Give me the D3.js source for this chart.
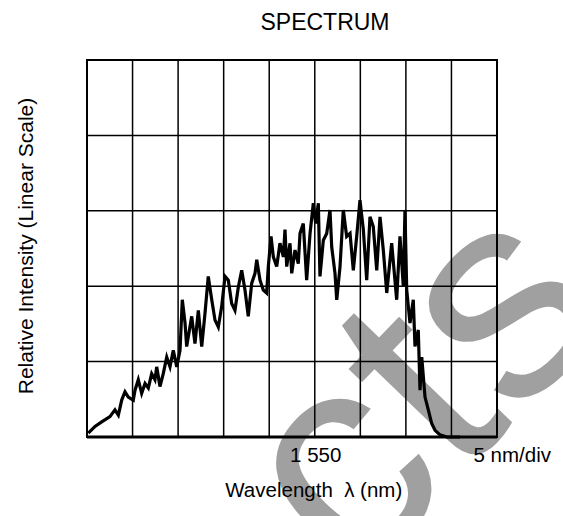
<!DOCTYPE html>
<html>
<head>
<meta charset="utf-8">
<script src="https://cdn.jsdelivr.net/npm/d3@7"></script>
<style>
  body { margin: 0; background: #fff; }
  text { font-family: "Liberation Sans", Arial, sans-serif; fill: #000; }
</style>
</head>
<body>
<div id="chart"><svg width="563" height="516"></svg></div>
<script>
// Spectrum trace: wavelength (nm), intensity (divisions)
let wavelength = [
  1525.14, 1525.88, 1526.61, 1527.52, 1528.07, 1528.44, 1528.81, 1529.17, 1529.53, 1530.08,
  1530.27, 1530.63, 1531.00, 1531.37, 1531.73, 1532.10, 1532.46, 1532.65, 1533.01, 1533.37,
  1533.75, 1534.11, 1534.47, 1534.85, 1535.21, 1535.46, 1535.76, 1535.94, 1536.12, 1536.49,
  1536.85, 1537.22, 1537.59, 1537.95, 1538.31, 1538.69, 1539.05, 1539.41, 1539.78, 1540.15,
  1540.51, 1540.88, 1541.24, 1541.61, 1541.98, 1542.34, 1542.70, 1543.08, 1543.44, 1543.63,
  1543.99, 1544.35, 1544.72, 1544.90, 1545.20, 1545.45, 1545.82, 1546.18, 1546.55, 1546.73,
  1546.92, 1547.28, 1547.47, 1547.83, 1548.19, 1548.38, 1548.74, 1549.11, 1549.48, 1549.84,
  1550.10, 1550.39, 1550.57, 1550.94, 1551.31, 1551.67, 1551.86, 1552.22, 1552.41, 1552.77,
  1553.13, 1553.50, 1553.87, 1554.23, 1554.60, 1554.96, 1555.33, 1555.70, 1556.06, 1556.42,
  1556.80, 1557.16, 1557.52, 1557.90, 1558.44, 1558.99, 1559.35, 1559.72, 1559.90, 1560.09,
  1560.45, 1560.81, 1561.00, 1561.36, 1561.55, 1561.74, 1562.10, 1562.46, 1562.83, 1563.20,
  1563.74, 1564.48, 1565.94
];
let intensity = [
  0.05, 0.14, 0.20, 0.27, 0.36, 0.29, 0.49, 0.60, 0.53, 0.49,
  0.62, 0.76, 0.58, 0.71, 0.65, 0.84, 0.76, 0.93, 0.67, 0.84,
  1.06, 0.93, 1.15, 0.93, 1.15, 1.82, 1.51, 1.20, 1.33, 1.60,
  1.24, 1.68, 1.20, 1.64, 2.13, 1.82, 1.55, 1.46, 1.73, 2.13,
  2.08, 1.77, 1.68, 1.99, 2.21, 1.95, 1.60, 2.04, 2.17, 2.35,
  2.08, 1.95, 1.91, 2.26, 2.66, 2.39, 2.26, 2.57, 2.39, 2.75,
  2.26, 2.57, 2.17, 2.48, 2.30, 2.70, 2.83, 2.08, 2.70, 3.10,
  2.83, 3.10, 2.13, 2.61, 2.70, 3.01, 2.52, 2.17, 1.82, 2.26,
  3.01, 2.66, 2.70, 2.21, 2.66, 3.14, 2.75, 2.08, 2.92, 2.79,
  2.21, 2.92, 2.48, 1.91, 2.57, 1.82, 2.66, 1.99, 3.01, 1.95,
  1.51, 1.82, 1.20, 1.42, 0.62, 1.06, 0.53, 0.36, 0.18, 0.09,
  0.03, 0.00, 0.00
];

// Axis settings: 9 divisions of 5 nm, 5 vertical divisions
let xDomain = [1525, 1570];
let yDomain = [0, 5];
let xGrid = d3.range(1525, 1570.1, 5);
let yGrid = d3.range(0, 5.1, 1);

let svg = d3.select("div#chart svg"),
  margin = { top: 60, right: 66, bottom: 79, left: 87 },
  width = svg.attr("width") - margin.left - margin.right,
  height = svg.attr("height") - margin.top - margin.bottom;

// Watermark goes first so the grid, trace and labels sit on top of it
svg.append("text")
  .attr("class", "watermark")
  .attr("transform", "translate(486,451) rotate(-46)")
  .attr("text-anchor", "middle")
  .style("font-size", 295)
  .style("fill", "#a0a0a0")
  .text("cts");

let g = svg.append("g").attr("transform", "translate(" + margin.left + "," + margin.top + ")");

let x = d3.scaleLinear().domain(xDomain).range([0, width]);
let y = d3.scaleLinear().domain(yDomain).range([height, 0]);

// Grid
g.append("g")
  .attr("class", "grid x")
  .selectAll("line")
  .data(xGrid)
  .enter()
  .append("line")
  .attr("x1", d => x(d))
  .attr("x2", d => x(d))
  .attr("y1", 0)
  .attr("y2", height)
  .attr("stroke", "#000")
  .attr("stroke-width", 1.5);

g.append("g")
  .attr("class", "grid y")
  .selectAll("line")
  .data(yGrid)
  .enter()
  .append("line")
  .attr("x1", 0)
  .attr("x2", width)
  .attr("y1", d => y(d))
  .attr("y2", d => y(d))
  .attr("stroke", "#000")
  .attr("stroke-width", 1.5);

// Frame
g.append("rect")
  .attr("width", width)
  .attr("height", height)
  .attr("fill", "none")
  .attr("stroke", "#000")
  .attr("stroke-width", 2);

g.append("line")
  .attr("x1", 0)
  .attr("x2", width)
  .attr("y1", height)
  .attr("y2", height)
  .attr("stroke", "#000")
  .attr("stroke-width", 3);

// Spectrum trace
let data = wavelength.map((w, i) => ({ w: w, v: intensity[i] }));
let line = d3.line()
  .x(d => x(d.w))
  .y(d => y(d.v));

g.append("path")
  .datum(data)
  .attr("fill", "none")
  .attr("stroke", "#000")
  .attr("stroke-width", 3.2)
  .attr("stroke-linejoin", "miter")
  .attr("d", line);

// Labels
g.append("text")
  .attr("x", x(1550) + 1)
  .attr("y", height + 25)
  .style("font-size", 20.5)
  .style("text-anchor", "middle")
  .text("1 550");

g.append("text")
  .attr("x", width + 54)
  .attr("y", height + 25)
  .style("font-size", 20.5)
  .style("text-anchor", "end")
  .text("5 nm/div");

g.append("text")
  .attr("x", x(1550) - 1)
  .attr("y", height + 60)
  .style("font-size", 20.5)
  .style("text-anchor", "middle")
  .style("white-space", "pre")
  .text("Wavelength  \u03bb (nm)");

g.append("text")
  .attr("transform", "rotate(-90)")
  .attr("x", -(246 - margin.top))
  .attr("y", 33 - margin.left)
  .style("font-size", 21)
  .style("text-anchor", "middle")
  .text("Relative Intensity (Linear Scale)");

svg.append("text")
  .attr("x", 325)
  .attr("y", 30)
  .style("font-size", 23)
  .style("text-anchor", "middle")
  .text("SPECTRUM");
</script>
</body>
</html>
